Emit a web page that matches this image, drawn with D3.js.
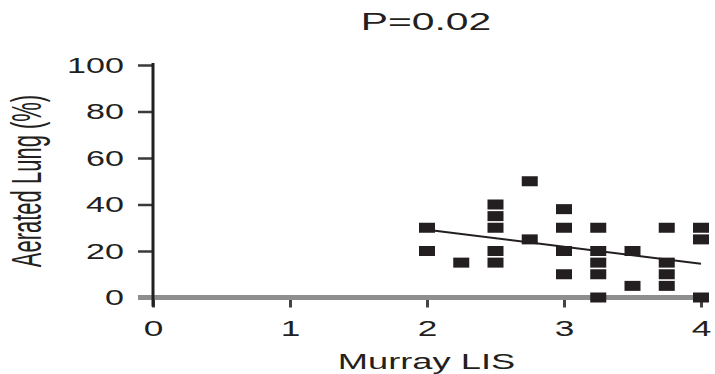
<!DOCTYPE html>
<html>
<head>
<meta charset="utf-8">
<script src="https://cdn.jsdelivr.net/npm/d3@7"></script>
<style>
  html, body { margin: 0; padding: 0; background: #fff; }
  svg { display: block; }
  text { font-family: "Liberation Sans", Arial, Helvetica, sans-serif; fill: #231f20; }
</style>
</head>
<body>
<svg id="chart" width="715" height="374"></svg>
<script>
// Murray lung injury score vs. aerated lung fraction, one entry per patient
const murrayLIS = [2, 2, 2.25, 2.5, 2.5, 2.5, 2.5, 2.5, 2.75, 2.75,
                   3, 3, 3, 3, 3.25, 3.25, 3.25, 3.25, 3.25, 3.5, 3.5,
                   3.75, 3.75, 3.75, 3.75, 4, 4, 4];
const aeratedLung = [30, 20, 15, 40, 35, 30, 20, 15, 50, 25,
                     38, 30, 20, 10, 30, 20, 15, 10, 0, 20, 5,
                     30, 15, 10, 5, 30, 25, 0];
const xTicks = [0, 1, 2, 3, 4];
const yTicks = [0, 20, 40, 60, 80, 100];
const titleText = "P=0.02";
const xLabel = "Murray LIS";
const yLabel = "Aerated Lung (%)";

const ink = "#231f20";

const svg = d3.select("#chart");
const x = d3.scaleLinear().domain([0, 4]).range([153, 701]);
const y = d3.scaleLinear().domain([0, 100]).range([297.5, 65]);

// y axis ticks and labels
const yAxis = svg.append("g")
  .attr("transform", `translate(${x(0)},0)`)
  .call(d3.axisLeft(y).tickValues(yTicks).tickSize(15).tickFormat(d3.format("d")));
yAxis.select(".domain").remove();
yAxis.selectAll(".tick line").attr("stroke", "#3a3a3a").attr("stroke-width", 2.5)
  .filter(d => d === 0).remove();
yAxis.selectAll(".tick text")
  .attr("x", -29 / 1.55)
  .attr("dy", "0.32em")
  .attr("transform", "scale(1.55,1)")
  .style("font-size", "22px")
  .attr("fill", ink);

// x axis ticks and labels
const xAxis = svg.append("g")
  .attr("transform", `translate(0,${y(0)})`)
  .call(d3.axisBottom(x).tickValues(xTicks).tickSize(10).tickFormat(d3.format("d")));
xAxis.select(".domain").remove();
xAxis.selectAll(".tick line").attr("stroke", "#444").attr("stroke-width", 3)
  .attr("y1", 2);
xAxis.selectAll(".tick text")
  .attr("y", 38.5)
  .attr("dy", 0)
  .attr("transform", "scale(1.6,1)")
  .style("font-size", "22px")
  .attr("fill", ink);

// baseline (grey) and vertical axis (dark)
svg.append("line")
  .attr("x1", x(0) - 15).attr("x2", x(4))
  .attr("y1", y(0)).attr("y2", y(0))
  .attr("stroke", "#8e8e8e").attr("stroke-width", 5);
svg.append("line")
  .attr("x1", x(0)).attr("x2", x(0))
  .attr("y1", y(100) - 2).attr("y2", y(0) + 9)
  .attr("stroke", ink).attr("stroke-width", 3);

// least-squares fit over the observed range
const n = murrayLIS.length;
const mx = d3.mean(murrayLIS), my = d3.mean(aeratedLung);
let sxy = 0, sxx = 0;
for (let i = 0; i < n; i++) {
  sxy += (murrayLIS[i] - mx) * (aeratedLung[i] - my);
  sxx += (murrayLIS[i] - mx) ** 2;
}
const slope = sxy / sxx, intercept = my - slope * mx;
const [xmin, xmax] = d3.extent(murrayLIS);
svg.append("path")
  .datum([xmin, xmax])
  .attr("d", d3.line().x(d => x(d)).y(d => y(intercept + slope * d)))
  .attr("fill", "none").attr("stroke", ink).attr("stroke-width", 2);

// patient markers
const mw = 16, mh = 10;
svg.append("g").selectAll("rect")
  .data(murrayLIS.map((v, i) => [v, aeratedLung[i]]))
  .join("rect")
  .attr("x", d => x(d[0]) - mw / 2)
  .attr("y", d => y(d[1]) - mh / 2)
  .attr("width", mw).attr("height", mh)
  .attr("fill", ink);

// title and axis titles
function stretched(px, py, str, size, k, rot) {
  svg.append("text")
    .attr("transform", `translate(${px},${py}) scale(${k},1)` + (rot ? ` rotate(${rot})` : ""))
    .attr("text-anchor", "middle")
    .style("font-size", size + "px")
    .text(str);
}
stretched(426, 30, titleText, 24, 1.7);
stretched(426.5, 369, xLabel, 22, 1.65);
stretched(41, 181, yLabel, 22, 1.9, -90);
</script>
</body>
</html>
